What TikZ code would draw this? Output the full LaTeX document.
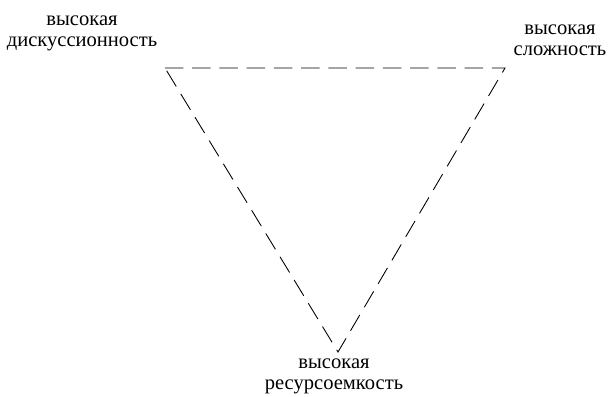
\documentclass[tikz,border=0pt]{standalone}
\usepackage{fontspec}
\setmainfont{Liberation Serif}
\newfontfamily\trifont{Liberation Serif}
\begin{document}
\begin{tikzpicture}[x=0.02cm,y=-0.02cm,
    lbl/.style={align=center,font=\trifont\fontsize{11.7}{12}\selectfont,inner sep=0pt},
    side/.style={dash pattern=on 10.5pt off 5pt,line width=0.5pt}]
      % Bounding box
      \path (0,0) rectangle (608,396);

      \coordinate (disc) at (165,68);
      \coordinate (compl) at (505,68);
      \coordinate (res) at (338,352);

      \draw (82,33) node[lbl] (disclbl) {высокая\\дискуссионность};
      \draw (560,40) node[lbl] (compllbl) {высокая\\сложность};
      \draw (334,376) node[lbl] (reslbl) {высокая\\ресурсоемкость};

      \draw[side] (disc) -- (compl) -- (res) -- cycle;
    \end{tikzpicture}
\end{document}
